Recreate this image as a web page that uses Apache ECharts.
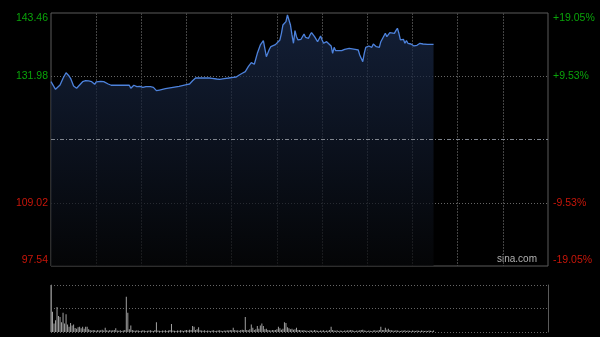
<!DOCTYPE html>
<html>
<head>
<meta charset="utf-8">
<script src="https://cdn.jsdelivr.net/npm/echarts@6/dist/echarts.min.js"></script>
<style>
html,body{margin:0;padding:0;background:#000;}
#c{width:600px;height:337px;}
</style>
</head>
<body>
<div id="c"></div>
<script>
// ---- data ----
var prevClose = 120.50;
var pctRange = 19.05;
var leftTickLabels = ['97.54', '109.02', '', '131.98', '143.46'];
var rightTickLabels = ['-19.05%', '-9.53%', '', '+9.53%', '+19.05%'];
var sessionMinutes = 330;

var minutes = [0,3,6,8,10,12,13,15,17,19,21,23,24,25,27,29,30,33,35,38,40,44,50,52,53,55,57,59,61,63,
  66,68,70,72,76,81,85,90,92,94,96,101,105,107,110,112,115,118,121,123,125,127,
  129,131,133,135,136,137,139,141,142,143,144,145,146,147,149,150,152,153,154,156,157,158,159,160,161,162,163,164,166,168,169,171,172,173,175,176,177,179,180,181,183,184,186,187,188,189,191,
  193,195,198,202,204,205,207,208,209,211,213,214,216,218,219,220,222,223,225,226,228,229,230,231,232,233,234,235,236,237,239,241,243,245,247,250,254];
var prices = [130.99,129.61,130.39,131.61,132.62,132.02,131.61,130.21,129.79,130.39,130.99,131.17,130.81,131.12,130.99,130.52,130.94,131.06,130.99,130.57,130.34,130.34,130.34,130.34,129.79,130.34,130.09,130.15,129.97,130.09,
  130.09,129.97,129.36,129.48,129.72,129.97,130.15,130.45,130.57,131.17,131.66,131.66,131.66,131.61,131.48,131.42,131.54,131.66,131.79,131.84,132.21,132.52,
  132.81,133.71,134.44,134.15,134.33,136.14,137.65,138.43,138.56,135.53,135.42,136.87,137.34,137.47,137.71,137.96,138.56,139.77,141.28,141.88,143.10,142.79,141.28,139.47,137.96,140.25,139.16,138.56,138.69,139.65,139.05,138.87,139.47,139.89,139.16,138.87,138.25,139.29,138.56,137.96,138.25,138.25,137.47,136.14,137.23,136.62,136.62,
  136.62,136.87,137.05,136.87,136.74,135.84,134.62,136.14,137.23,137.47,137.23,137.83,137.34,137.23,138.25,138.56,139.77,139.16,139.89,139.65,139.77,140.25,140.68,139.77,138.56,138.25,138.69,137.96,138.43,137.96,137.83,137.47,137.59,137.96,137.83,137.77,137.77];

var volumes = [1000,430,180,250,530,340,320,210,410,180,380,160,110,190,140,160,85,70,100,110,
  80,110,70,110,110,60,40,30,45,35,25,40,30,35,50,30,90,35,25,40,
  30,35,45,80,30,25,35,20,30,40,750,410,60,140,40,30,25,35,30,20,
  25,35,30,20,25,30,35,25,20,40,210,30,25,20,30,25,35,20,30,45,
  170,30,25,20,30,25,35,30,20,35,40,30,50,45,130,110,40,60,100,35,
  30,25,35,20,30,25,20,30,35,20,25,30,35,25,20,30,25,35,30,45,
  35,90,40,30,35,25,40,50,45,320,40,35,60,160,90,45,60,130,70,140,
  180,130,60,70,40,35,30,40,35,45,60,110,80,50,70,210,190,100,80,60,
  70,50,60,90,45,40,35,30,40,25,30,20,35,30,25,40,30,25,20,30,
  25,35,20,30,25,40,110,45,30,25,35,20,30,25,20,30,25,35,30,40,
  35,25,20,30,25,35,40,50,30,25,20,30,25,20,30,35,25,30,40,110,
  45,40,90,50,70,40,35,30,25,35,30,25,20,30,25,35,20,30,25,20,
  30,25,20,30,25,20,30,25,20,25,20,30,25,20,30];
var volumeMax = 1000;

// ---- chart ----
var lineData = minutes.map(function (m, i) { return [m, prices[i]]; });
var volData = volumes.map(function (v, i) { return [i, v]; });

var labelFont = 'Liberation Sans, Arial, sans-serif';
function labelColor(v, i) { return i < 2 ? '#c8160a' : '#0aa30a'; }

var chart = echarts.init(document.getElementById('c'), null, {renderer: 'canvas'});
chart.setOption({
  backgroundColor: '#000',
  animation: false,
  grid: [
    {left: 51, right: 52, top: 13, bottom: 71, show: true, borderColor: '#5a5a5a', borderWidth: 1, backgroundColor: 'transparent'},
    {left: 51, right: 52, top: 285, bottom: 5}
  ],
  xAxis: [
    {type: 'value', gridIndex: 0, min: 0, max: sessionMinutes, interval: 30,
     axisLine: {show: false}, axisTick: {show: false}, axisLabel: {show: false},
     splitLine: {show: true, showMinLine: false, showMaxLine: false, lineStyle: {color: '#444', type: [2, 1], width: 1}}},
    {type: 'value', gridIndex: 1, min: 0, max: sessionMinutes, interval: 30,
     axisLine: {show: false}, axisTick: {show: false}, axisLabel: {show: false}, splitLine: {show: false}}
  ],
  yAxis: [
    {type: 'value', gridIndex: 0, show: false,
     min: prevClose * (1 - pctRange / 100), max: prevClose * (1 + pctRange / 100)},
    {type: 'value', gridIndex: 0, position: 'left', min: -pctRange, max: pctRange, interval: pctRange / 2,
     axisLine: {show: false}, axisTick: {show: false},
     axisLabel: {show: true, margin: 3, fontSize: 10.5, fontFamily: labelFont,
       color: labelColor,
       verticalAlignMaxLabel: 'top', verticalAlignMinLabel: 'bottom',
       formatter: function (v, i) { return leftTickLabels[i] || ''; }},
     splitLine: {show: true, showMinLine: false, showMaxLine: false, lineStyle: {color: '#666', type: [1, 2], width: 1}}},
    {type: 'value', gridIndex: 0, position: 'right', min: -pctRange, max: pctRange, interval: pctRange / 2,
     axisLine: {show: false}, axisTick: {show: false},
     axisLabel: {show: true, margin: 5, fontSize: 10.5, fontFamily: labelFont,
       color: labelColor,
       verticalAlignMaxLabel: 'top', verticalAlignMinLabel: 'bottom',
       formatter: function (v, i) { return rightTickLabels[i] || ''; }},
     splitLine: {show: false}},
    {type: 'value', gridIndex: 1, position: 'left', min: 0, max: volumeMax, interval: volumeMax / 2,
     axisLine: {show: true, lineStyle: {color: '#5a5a5a'}}, axisTick: {show: false}, axisLabel: {show: false},
     splitLine: {show: true, lineStyle: {color: '#666', type: [1, 2], width: 1}}},
    {type: 'value', gridIndex: 1, position: 'right', min: 0, max: volumeMax, interval: volumeMax / 2,
     axisLine: {show: true, lineStyle: {color: '#5a5a5a'}}, axisTick: {show: false}, axisLabel: {show: false},
     splitLine: {show: false}}
  ],
  series: [
    {type: 'line', xAxisIndex: 0, yAxisIndex: 0, data: lineData, showSymbol: false, smooth: false,
     lineStyle: {color: '#4d82dc', width: 1.3},
     areaStyle: {color: new echarts.graphic.LinearGradient(0, 0, 0, 1, [
       {offset: 0, color: '#1b2c4e'}, {offset: 1, color: '#060709'}])},
     markLine: {silent: true, symbol: 'none', label: {show: false},
       lineStyle: {color: '#80858e', type: [4, 2, 1, 2], width: 1},
       data: [{yAxis: prevClose}]},
     z: 3},
    {type: 'bar', xAxisIndex: 1, yAxisIndex: 3, data: volData, barWidth: 1,
     itemStyle: {color: '#a0a0a0'}}
  ],
  graphic: [
    {type: 'text', right: 63, top: 254, style: {text: 'sina.com', fill: '#b0b0b0', font: '10px Liberation Sans, Arial, sans-serif'}}
  ]
});
</script>
</body>
</html>
